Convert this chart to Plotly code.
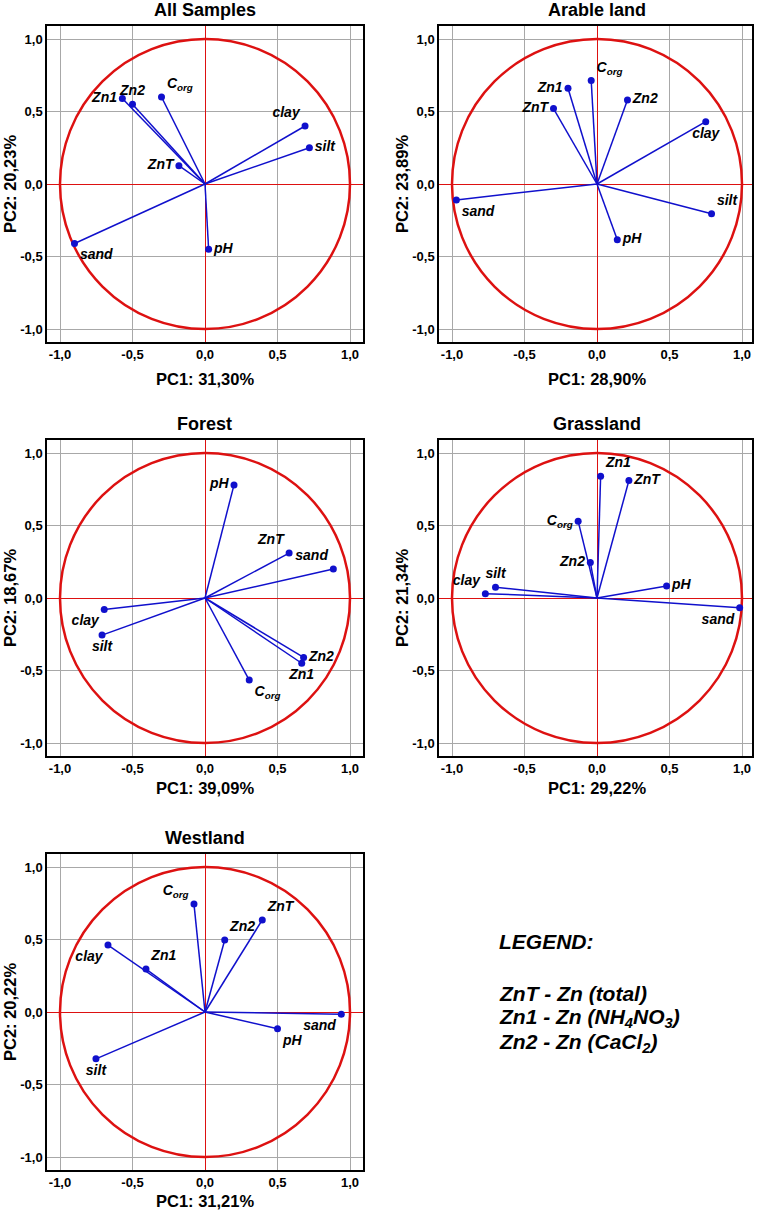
import plotly.graph_objects as go

W, H = 757, 1210

variables = ["ZnT", "Zn1", "Zn2", "Corg", "clay", "silt", "sand", "pH"]
var_labels = ["ZnT", "Zn1", "Zn2", "C<sub>org</sub>", "clay", "silt", "sand", "pH"]

titles = ["All Samples", "Arable land", "Forest", "Grassland", "Westland"]
pc1_labels = ["PC1: 31,30%", "PC1: 28,90%", "PC1: 39,09%", "PC1: 29,22%", "PC1: 31,21%"]
pc2_labels = ["PC2: 20,23%", "PC2: 23,89%", "PC2: 18,67%", "PC2: 21,34%", "PC2: 20,22%"]

all_pc1 = [-0.18, -0.57, -0.50, -0.30, 0.69, 0.72, -0.90, 0.025]
all_pc2 = [0.126, 0.59, 0.55, 0.60, 0.40, 0.25, -0.41, -0.45]
arable_pc1 = [-0.30, -0.20, 0.21, -0.04, 0.75, 0.79, -0.97, 0.14]
arable_pc2 = [0.52, 0.66, 0.58, 0.714, 0.43, -0.205, -0.11, -0.385]
forest_pc1 = [0.58, 0.667, 0.68, 0.305, -0.695, -0.71, 0.885, 0.20]
forest_pc2 = [0.31, -0.45, -0.41, -0.566, -0.08, -0.256, 0.20, 0.78]
grass_pc1 = [0.22, 0.025, -0.046, -0.13, -0.77, -0.70, 0.984, 0.48]
grass_pc2 = [0.81, 0.84, 0.245, 0.53, 0.03, 0.074, -0.067, 0.083]
west_pc1 = [0.395, -0.407, 0.136, -0.076, -0.669, -0.752, 0.94, 0.50]
west_pc2 = [0.635, 0.296, 0.497, 0.744, 0.462, -0.323, -0.016, -0.115]

tick_vals = [-1.0, -0.5, 0.0, 0.5, 1.0]
tick_text = ["-1,0", "-0,5", "0,0", "0,5", "1,0"]

legend_title = "LEGEND:"
legend_lines = ["ZnT - Zn (total)",
                "Zn1 - Zn (NH<sub>4</sub>NO<sub>3</sub>)",
                "Zn2 - Zn (CaCl<sub>2</sub>)"]

panel_x = [all_pc1, arable_pc1, forest_pc1, grass_pc1, west_pc1]
panel_y = [all_pc2, arable_pc2, forest_pc2, grass_pc2, west_pc2]

# ---- styling / layout (not data) ----
label_pos = [
    {"ZnT": "middle left", "Zn1": "middle left", "Zn2": "top center", "Corg": "top right",
     "clay": "top left", "silt": "middle right", "sand": "bottom right", "pH": "middle right"},
    {"ZnT": "middle left", "Zn1": "middle left", "Zn2": "middle right", "Corg": "top right",
     "clay": "bottom center", "silt": "top right", "sand": "bottom right", "pH": "middle right"},
    {"ZnT": "top left", "Zn1": "bottom center", "Zn2": "middle right", "Corg": "bottom right",
     "clay": "bottom left", "silt": "bottom center", "sand": "top left", "pH": "middle left"},
    {"ZnT": "middle right", "Zn1": "top right", "Zn2": "middle left", "Corg": "middle left",
     "clay": "top left", "silt": "top center", "sand": "bottom left", "pH": "middle right"},
    {"ZnT": "top right", "Zn1": "top right", "Zn2": "top right", "Corg": "top left",
     "clay": "bottom left", "silt": "bottom center", "sand": "bottom left", "pH": "bottom right"},
]

PX = 145.0  # pixels per unit
# (left px, origin x px, right px, top px, origin y px, bottom px, pc1 label y px)
geom = [
    (47, 205, 363, 26, 184, 342, 379),
    (439, 597, 752, 26, 184, 342, 379),
    (47, 205, 363, 440, 598, 756, 788),
    (439, 597, 752, 440, 598, 756, 788),
    (47, 205, 363, 854, 1012, 1170, 1201),
]

FONT = "Liberation Sans, Arial, sans-serif"
BLUE = "#1010cc"
RED = "#dd1111"

fig = go.Figure()
layout = dict(width=W, height=H, margin=dict(l=0, r=0, t=0, b=0),
              paper_bgcolor="white", plot_bgcolor="white", showlegend=False,
              font=dict(family=FONT, color="black"))
shapes, annotations = [], []

for i in range(5):
    l, ox, r, t, oy, b, ty = geom[i]
    xa = "xaxis" if i == 0 else f"xaxis{i+1}"
    ya = "yaxis" if i == 0 else f"yaxis{i+1}"
    xr = "x" if i == 0 else f"x{i+1}"
    yr = "y" if i == 0 else f"y{i+1}"
    common = dict(tickvals=tick_vals, ticktext=tick_text, showgrid=True, gridcolor="#a8a8a8",
                  gridwidth=1, zeroline=True, zerolinecolor=RED, zerolinewidth=1,
                  showline=True, mirror=True, linecolor="black", linewidth=1.5,
                  ticks="", tickfont=dict(family=FONT, size=13, color="black", weight="bold"),
                  fixedrange=True)
    layout[xa] = dict(common, domain=[l / W, r / W], range=[(l - ox) / PX, (r - ox) / PX],
                      anchor=yr)
    layout[ya] = dict(common, domain=[1 - b / H, 1 - t / H], range=[(oy - b) / PX, (oy - t) / PX],
                      anchor=xr)

    shapes.append(dict(type="circle", xref=xr, yref=yr, x0=-1, y0=-1, x1=1, y1=1,
                       line=dict(color=RED, width=2.5), layer="between"))

    xs, ys = panel_x[i], panel_y[i]
    lx, ly = [], []
    for a, c in zip(xs, ys):
        lx += [0, a, None]
        ly += [0, c, None]
    fig.add_trace(go.Scatter(x=lx, y=ly, mode="lines", line=dict(color=BLUE, width=1.5),
                             xaxis=xr, yaxis=yr, hoverinfo="skip"))
    fig.add_trace(go.Scatter(
        x=xs, y=ys, mode="markers+text",
        marker=dict(color=BLUE, size=7),
        text=[f"<b><i>{v}</i></b>" for v in var_labels],
        textposition=[label_pos[i][v] for v in variables],
        textfont=dict(family=FONT, size=14, color="black"),
        xaxis=xr, yaxis=yr, cliponaxis=False))

    annotations.append(dict(text=f"<b>{titles[i]}</b>", x=ox / W, y=1 - (t - 16) / H,
                            xref="paper", yref="paper", showarrow=False,
                            font=dict(family=FONT, size=18), xanchor="center", yanchor="middle"))
    annotations.append(dict(text=f"<b>{pc1_labels[i]}</b>", x=ox / W, y=1 - ty / H,
                            xref="paper", yref="paper", showarrow=False,
                            font=dict(family=FONT, size=16.5), xanchor="center", yanchor="middle"))
    annotations.append(dict(text=f"<b>{pc2_labels[i]}</b>", x=(l - 37) / W, y=1 - oy / H,
                            xref="paper", yref="paper", showarrow=False, textangle=-90,
                            font=dict(family=FONT, size=16.5), xanchor="center", yanchor="middle"))

legend_y = [941, 993, 1018, 1043]
for txt, yy in zip([legend_title] + legend_lines, legend_y):
    annotations.append(dict(text=f"<b><i>{txt}</i></b>", x=497 / W, y=1 - yy / H,
                            xref="paper", yref="paper", showarrow=False, align="left",
                            xanchor="left", yanchor="middle",
                            font=dict(family=FONT, size=21, color="black")))

layout["shapes"] = shapes
layout["annotations"] = annotations
fig.update_layout(**layout)
fig.write_html("out.html", config={"displayModeBar": False},
               post_script="document.body.style.margin='0';document.body.style.overflow='hidden';")
